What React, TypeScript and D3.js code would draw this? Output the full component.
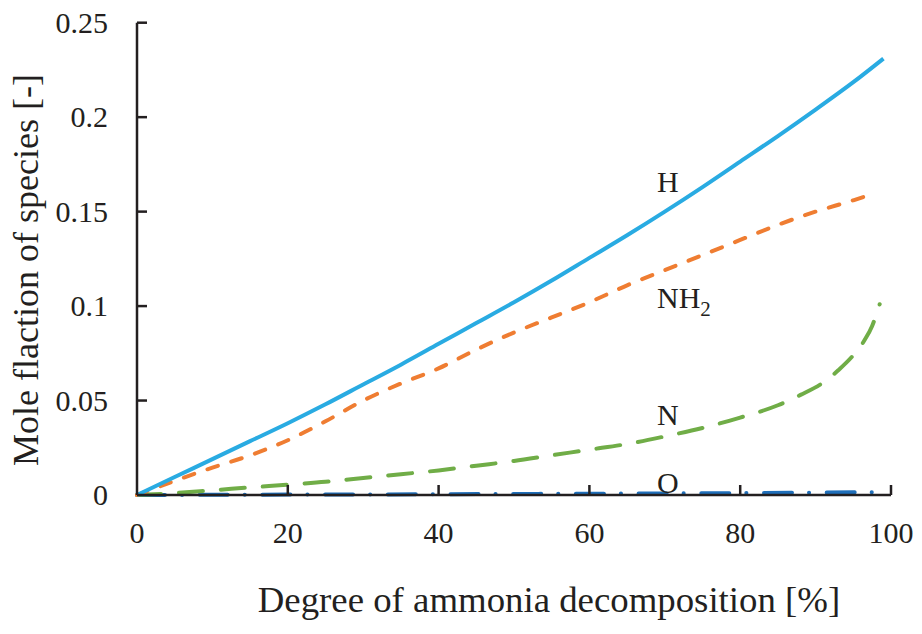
import React from "react";
import * as d3 from "d3";

// Degree of ammonia decomposition [%] and species mole fractions
const hX = [0, 5, 10, 15, 20, 25, 30, 35, 40, 45, 50, 55, 60, 65, 70, 75, 80, 85, 90, 95, 99];
const hY = [0, 0.0095, 0.019, 0.0285, 0.038, 0.048, 0.0585, 0.069, 0.08, 0.091, 0.102, 0.1135, 0.1255, 0.1375, 0.15, 0.163, 0.1765, 0.19, 0.204, 0.2185, 0.231];

const nh2X = [0, 5, 10, 15, 20, 25, 30, 35, 40, 45, 50, 55, 60, 65, 70, 75, 80, 85, 90, 95, 98];
const nh2Y = [0, 0.0075, 0.0145, 0.021, 0.029, 0.039, 0.05, 0.059, 0.067, 0.077, 0.086, 0.094, 0.102, 0.111, 0.119, 0.127, 0.135, 0.143, 0.15, 0.156, 0.16];

const nX = [0, 5, 10, 15, 20, 25, 30, 35, 40, 45, 50, 55, 60, 65, 70, 75, 80, 85, 88, 91, 93, 95, 96.5, 97.5, 98.5];
const nY = [0, 0.001, 0.0025, 0.004, 0.0055, 0.007, 0.009, 0.011, 0.013, 0.0155, 0.018, 0.021, 0.024, 0.027, 0.031, 0.0355, 0.041, 0.0475, 0.053, 0.0595, 0.066, 0.074, 0.082, 0.0895, 0.101];

const oX = [0, 20, 40, 60, 80, 98];
const oY = [0, 0.0002, 0.0004, 0.0007, 0.001, 0.0015];

const xTicks = [0, 20, 40, 60, 80, 100];
const yTicks = [0, 0.05, 0.1, 0.15, 0.2, 0.25];
const yTickLabels = ["0", "0.05", "0.1", "0.15", "0.2", "0.25"];

const FONT = "'Liberation Serif', 'Times New Roman', 'DejaVu Serif', serif";
const AXIS = "#231f20";

export default function App() {
  const x = d3.scaleLinear().domain([0, 100]).range([137, 891]);
  const y = d3.scaleLinear().domain([0, 0.25]).range([495, 22.7]);

  const line = d3
    .line<[number, number]>()
    .x((d) => x(d[0]))
    .y((d) => y(d[1]))
    .curve(d3.curveMonotoneX);

  const zip = (xs: number[], ys: number[]) => xs.map((v, i) => [v, ys[i]] as [number, number]);

  const series = [
    { key: "O", pts: zip(oX, oY), color: "#1f6fba", dash: "28 17 0.1 17.6" },
    { key: "N", pts: zip(nX, nY), color: "#70ad47", dash: "24 18" },
    { key: "NH2", pts: zip(nh2X, nh2Y), color: "#ef7d32", dash: "11 14" },
    { key: "H", pts: zip(hX, hY), color: "#29abe2", dash: undefined as string | undefined },
  ];

  const txt = { fontFamily: FONT, fill: "#231f20" } as React.CSSProperties;

  return (
    <svg
      width={922}
      height={634}
      style={{ position: "absolute", left: 0, top: 0, background: "#fff", fontFamily: FONT }}
    >
      <rect x={0} y={0} width={922} height={634} fill="#fff" />

      {/* data lines */}
      {series.map((s) => (
        <path
          key={s.key}
          d={line(s.pts) || ""}
          fill="none"
          stroke={s.color}
          strokeWidth={4}
          strokeLinecap={s.dash ? "round" : "butt"}
          strokeLinejoin="round"
          strokeDasharray={s.dash}
        />
      ))}

      {/* axes */}
      <line x1={x(0)} x2={x(0)} y1={y(0)} y2={y(0.25)} stroke={AXIS} strokeWidth={2.5} />
      <line x1={x(0)} x2={x(100)} y1={y(0)} y2={y(0)} stroke={AXIS} strokeWidth={2.5} />
      {yTicks.slice(1).map((t) => (
        <line key={"yt" + t} x1={x(0)} x2={x(0) + 10} y1={y(t)} y2={y(t)} stroke={AXIS} strokeWidth={2.5} />
      ))}
      {xTicks.slice(1).map((t) => (
        <line key={"xt" + t} x1={x(t)} x2={x(t)} y1={y(0)} y2={y(0) - 10} stroke={AXIS} strokeWidth={2.5} />
      ))}

      {/* tick labels */}
      {yTicks.map((t, i) => (
        <text key={"yl" + t} x={108} y={y(t) + 10} textAnchor="end" fontSize={30} style={txt}>
          {yTickLabels[i]}
        </text>
      ))}
      {xTicks.map((t) => (
        <text key={"xl" + t} x={x(t)} y={543} textAnchor="middle" fontSize={30} style={txt}>
          {t}
        </text>
      ))}

      {/* axis titles */}
      <text x={549} y={612} textAnchor="middle" fontSize={36.8} style={txt}>
        Degree of ammonia decomposition [%]
      </text>
      <text transform="translate(38,270) rotate(-90)" textAnchor="middle" fontSize={36} style={txt}>
        Mole flaction of species [-]
      </text>

      {/* series labels */}
      <text x={657} y={192} fontSize={30} style={txt}>H</text>
      <text x={657} y={308} fontSize={30} style={txt}>
        NH<tspan fontSize={21} dy={8}>2</tspan>
      </text>
      <text x={657} y={425} fontSize={30} style={txt}>N</text>
      <text x={657} y={493} fontSize={30} style={txt}>O</text>
    </svg>
  );
}
